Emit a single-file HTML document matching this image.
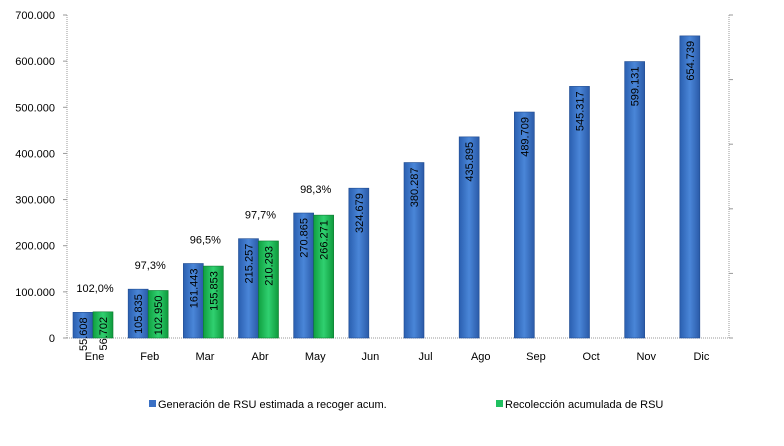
<!DOCTYPE html>
<html><head><meta charset="utf-8"><style>
body{margin:0;background:#fff;}
svg text{font-family:"Liberation Sans",Arial,sans-serif;fill:#000;}
</style></head><body>
<svg width="784" height="441" viewBox="0 0 784 441">
<defs>
<linearGradient id="gb" x1="0" x2="1"><stop offset="0" stop-color="#2a5fb0"/><stop offset="0.5" stop-color="#4a86d8"/><stop offset="1" stop-color="#2a5aa8"/></linearGradient>
<linearGradient id="gg" x1="0" x2="1"><stop offset="0" stop-color="#10a040"/><stop offset="0.5" stop-color="#30d070"/><stop offset="1" stop-color="#0e9a3c"/></linearGradient>
</defs>
<g id="axes"></g>
<g id="bars"></g>
<g>
<rect x="149" y="400" width="7" height="7" fill="#3a70c4"/>
<text x="158" y="408" font-size="11">Generación de RSU estimada a recoger acum.</text>
<rect x="496" y="400" width="7" height="7" fill="#20c060"/>
<text x="505" y="408" font-size="11">Recolección acumulada de RSU</text>
</g>
</svg>
<script>
const categories=["Ene","Feb","Mar","Abr","May","Jun","Jul","Ago","Sep","Oct","Nov","Dic"];
const generacion=[55608,105835,161443,215257,270865,324679,380287,435895,489709,545317,599131,654739];
const recoleccion=[56702,102950,155853,210293,266271,null,null,null,null,null,null,null];
const percentLabels=["102,0%","97,3%","96,5%","97,7%","98,3%"];
const yTicks=[0,100000,200000,300000,400000,500000,600000,700000];
const yTickLabels=["0","100.000","200.000","300.000","400.000","500.000","600.000","700.000"];
const NS="http://www.w3.org/2000/svg";
const x0=67,x1=729,yb=338,yt=15,ymax=700000;
const cw=(x1-x0)/categories.length;
const y=v=>yb-(v/ymax)*(yb-yt);
const fmt=v=>v.toLocaleString('en-US').replace(/,/g,'.');
function mk(tag,attrs,parent){const e=document.createElementNS(NS,tag);for(const k in attrs)e.setAttribute(k,attrs[k]);parent.appendChild(e);return e;}
const ax=document.getElementById('axes'),bg=document.getElementById('bars');
let e=mk('line',{x1:x0,y1:yt,x2:x0,y2:yb,stroke:'#999','stroke-dasharray':'1,1'},ax);

e=mk('line',{x1:x1,y1:yt,x2:x1,y2:yb,stroke:'#999','stroke-dasharray':'1,1'},ax);

e=mk('line',{x1:x0,y1:yb,x2:x1,y2:yb,stroke:'#999','stroke-dasharray':'1,1'},ax);

yTicks.forEach((t,i)=>{
  mk('line',{x1:x0-4,y1:y(t),x2:x0,y2:y(t),stroke:'#999'},ax);
  const tx=mk('text',{x:x0-12,y:y(t)+4,'font-size':11,'text-anchor':'end'},ax);
  tx.textContent=yTickLabels[i];
  
});
for(let i=0;i<=5;i++){const yy=yt+i*(yb-yt)/5;mk('line',{x1:x1,y1:yy,x2:x1+4,y2:yy,stroke:'#999'},ax);}
categories.forEach((c,i)=>{
  const cx=x0+cw*(i+0.5);
  const tx=mk('text',{x:cx,y:yb+22,'font-size':11,'text-anchor':'middle'},ax);
  tx.textContent=c;
  
  const bx=x0+cw*i+6;
  const v=generacion[i];
  const r=mk('rect',{x:bx,y:y(v),width:20,height:yb-y(v),fill:'url(#gb)',stroke:'#1e4a90','stroke-width':0.6},bg);
  
  const l=mk('text',{x:0,y:0,'font-size':11,'text-anchor':'end',transform:`translate(${bx+14},${y(v)+5}) rotate(-90)`},bg);
  l.textContent=fmt(v);
  
  const g=recoleccion[i];
  if(g!=null){
    const r2=mk('rect',{x:bx+20,y:y(g),width:20,height:yb-y(g),fill:'url(#gg)',stroke:'#0a7a30','stroke-width':0.6},bg);
    
    const l2=mk('text',{x:0,y:0,'font-size':11,'text-anchor':'end',transform:`translate(${bx+34},${y(g)+5}) rotate(-90)`},bg);
    l2.textContent=fmt(g);
    
    const p=mk('text',{x:bx+22,y:y(Math.max(v,g))-20,'font-size':11,'text-anchor':'middle'},bg);
    p.textContent=percentLabels[i];
    
  }
});
</script>
</body></html>
